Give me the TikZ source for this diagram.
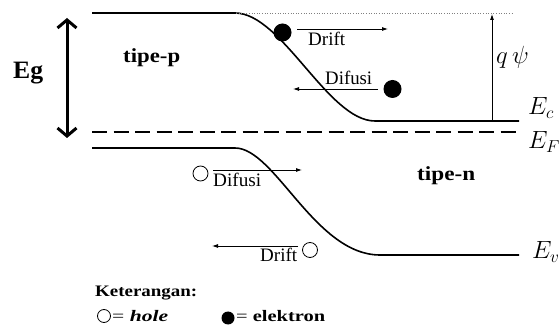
\documentclass[tikz,border=0pt]{standalone}
\usepackage{fontspec}
\setmainfont{Liberation Serif}
\usepackage{graphicx}
\usetikzlibrary{arrows.meta}
\newcommand{\fitw}[2]{\resizebox{#1}{\height}{#2}}
\begin{document}
\begin{tikzpicture}[x=1pt,y=-1pt,
  band/.style={line width=1.6pt},
  lbl/.style={anchor=base west, inner sep=0pt},
  big/.style={font=\bfseries\fontsize{20}{22}\selectfont},
  flowtxt/.style={font=\fontsize{19}{21}\selectfont},
  legtxt/.style={font=\fontsize{16}{18}\selectfont},
  mathtxt/.style={font=\fontsize{24}{26}\selectfont},
  flow/.style={line width=0.8pt, -{Latex[length=6pt,width=4pt]}},
  electron/.style={circle, fill=black, minimum size=18pt, inner sep=0pt},
  hole/.style={circle, draw, line width=0.8pt, fill=white, minimum size=15pt, inner sep=0pt}]
\path[fill=white, use as bounding box] (0,0) rectangle (559,328);

% bands
\draw[band] (92,13) -- (235,13) .. controls (282,13) and (328,121) .. (375,121) -- (519,121);
\draw[band] (92,148) -- (235,148) .. controls (275,148) and (315,255) .. (380,255) -- (519,255);
\draw[line width=1.6pt, dash pattern=on 15pt off 6.5pt] (92,132) -- (519,132);
\draw[gray, line width=0.9pt, dash pattern=on 1pt off 1.6pt] (236,13) -- (512,13);

% Eg arrow
\coordinate (egt) at (67,18);
\coordinate (egb) at (67,138);
\draw[line width=3pt, {Straight Barb[length=8pt,width=19pt]}-{Straight Barb[length=8pt,width=19pt]}] (egt) -- (egb);
\node[lbl, font=\bfseries\fontsize{25}{27}\selectfont] (eg) at (13,79) {\fitw{30pt}{Eg}};

% q psi arrow
\coordinate (qb) at (492,121);
\coordinate (qt) at (492,14);
\draw[line width=0.8pt, -{Latex[length=6pt,width=4pt]}] (qb) -- (qt);
\node[lbl, mathtxt] (qpsi) at (496,64) {$q\,\psi$};

% level labels
\node[lbl, mathtxt] (ec) at (528,115) {$E_c$};
\node[lbl, mathtxt] (ef) at (528,149) {$E_F$};
\node[lbl, mathtxt] (ev) at (532,259) {$E_v$};

% region labels
\node[lbl, big] (tp) at (123,63) {\fitw{57pt}{tipe-p}};
\node[lbl, big] (tn) at (417,181) {\fitw{58pt}{tipe-n}};

% electrons
\node[electron] (e1) at (282.5,32.5) {};
\node[electron] (e2) at (392.5,89) {};
\coordinate (e1a) at (297,29);
\coordinate (e1b) at (388,29);
\draw[flow] (e1a) -- (e1b);
\node[lbl, flowtxt] (d1) at (308,46) {\fitw{37pt}{Drift}};
\coordinate (e2a) at (378,89);
\coordinate (e2b) at (293,89);
\draw[flow] (e2a) -- (e2b);
\node[lbl, flowtxt] (f1) at (325,85) {\fitw{47pt}{Difusi}};

% holes
\node[hole] (h1) at (200.5,173.5) {};
\node[hole] (h2) at (310,250) {};
\coordinate (h1a) at (213,170);
\coordinate (h1b) at (302,170);
\draw[flow] (h1a) -- (h1b);
\node[lbl, flowtxt] (f2) at (213,187) {\fitw{48pt}{Difusi}};
\coordinate (h2a) at (298,246);
\coordinate (h2b) at (212,246);
\draw[flow] (h2a) -- (h2b);
\node[lbl, flowtxt] (d2) at (260,262) {\fitw{37pt}{Drift}};

% legend
\node[lbl, font=\bfseries\fontsize{16}{18}\selectfont] (ket) at (95,297) {\fitw{102pt}{Keterangan:}};
\node[hole, minimum size=13pt] (lh) at (104,316) {};
\node[lbl, legtxt] (lht) at (112,321) {\fitw{56pt}{= \textbf{\textit{hole}}}};
\node[electron, minimum size=13pt] (le) at (228,318) {};
\node[lbl, legtxt] (let) at (236,322) {\fitw{89pt}{= \textbf{elektron}}};
\end{tikzpicture}
\end{document}
